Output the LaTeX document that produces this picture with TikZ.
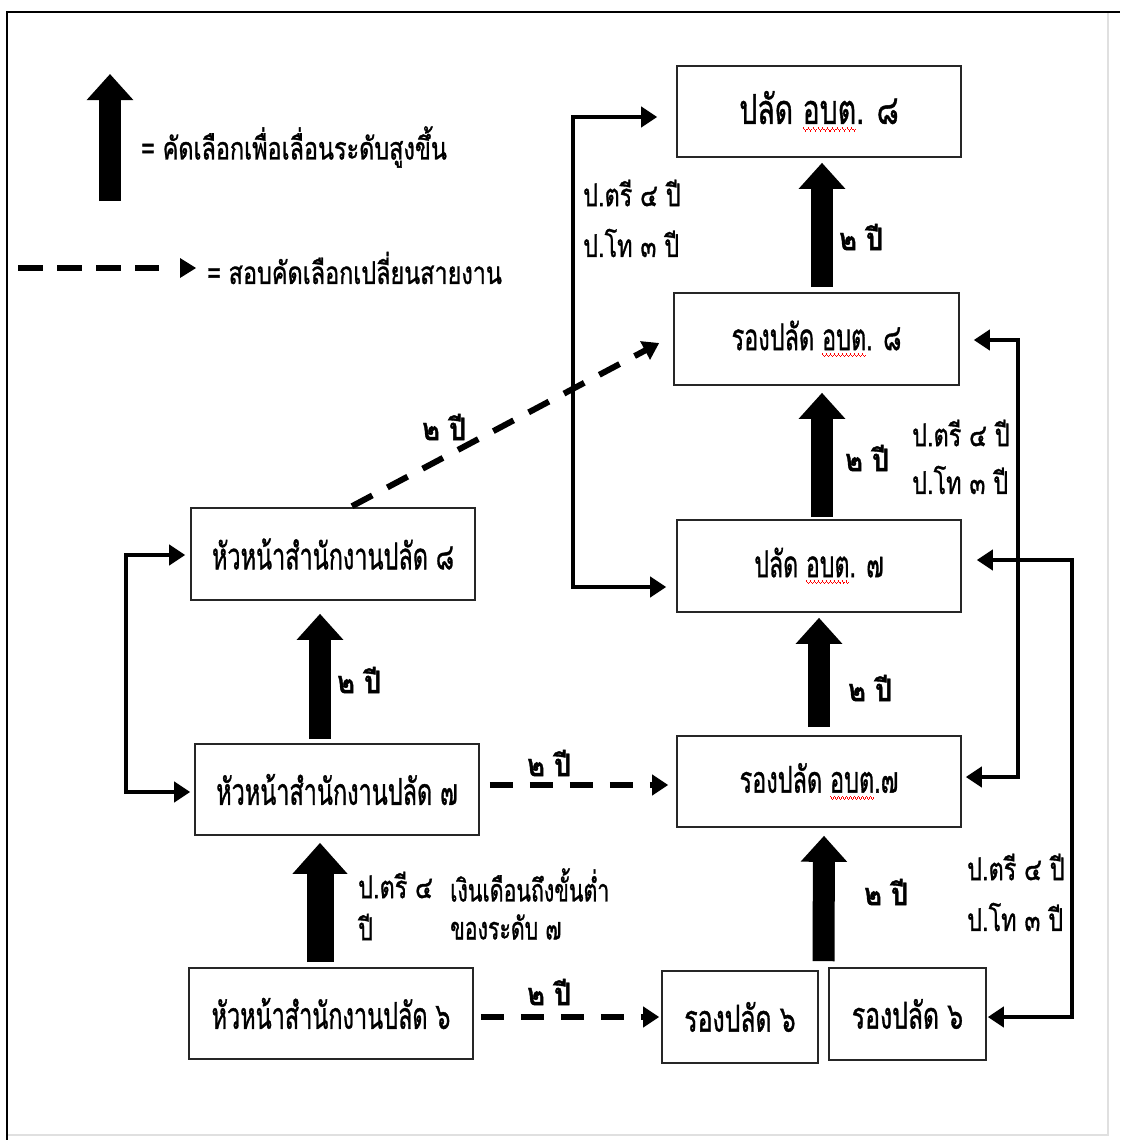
\documentclass[tikz,border=0pt]{standalone}
\usepackage{fontspec}
\usepackage{graphicx}
\setmainfont[Script=Thai,FakeBold=1.2]{Loma}
\usetikzlibrary{arrows.meta,calc}
\newcommand\sq[1]{\leavevmode\sbox0{#1}\rlap{\color{red}\hbox to\wd0{\xleaders\hbox{\rule[-4pt]{1.3pt}{1.2pt}\rule[-5.2pt]{1.3pt}{1.2pt}\rule[-6.4pt]{1.3pt}{1.2pt}\rule[-5.2pt]{1.3pt}{1.2pt}}\hfil}}\box0}
\newcommand\bt[2][0.71]{\scalebox{#1}[1.12]{#2}}
\newcommand\lt[2][0.9]{\scalebox{#1}[1.2]{#2}}
\newcommand\yt[1]{\scalebox{1}[1.15]{#1}}
\begin{document}
\begin{tikzpicture}[x=1pt,y=-1pt,
  bx/.style={draw=black!85, line width=1.6pt, inner sep=0pt, font=\fontsize{33}{38}\selectfont},
  lbl/.style={inner sep=0pt, anchor=west, font=\fontsize{26}{30}\selectfont},
  yr/.style={inner sep=0pt, anchor=west, font=\bfseries\fontsize{27}{31}\selectfont},
  blockarrow/.style={line width=22pt, -{Triangle[width=45pt,length=26pt]}},
  sidearrow/.style={line width=4.5pt, line join=miter, {Triangle[width=20pt,length=16pt]}-{Triangle[width=20pt,length=16pt]}},
  dasharrow/.style={line width=6pt, dash pattern=on 23pt off 17pt, -{Triangle[width=20pt,length=16pt]}}]
\useasboundingbox (0,0) rectangle (1120,1140);
\fill[white] (0,0) rectangle (1120,1140);
% frame
\draw[black!12, line width=1.5pt] (1108,12) -- (1108,1135) -- (7,1135);
\draw[line width=2.5pt] (7,1140) -- (7,12) -- (1120,12);

% boxes
\node[bx, minimum width=284pt, minimum height=91pt] (A) at (819,111.5) {\scalebox{0.86}[1.25]{ปลัด \sq{อบต}. ๘}};
\node[bx, minimum width=285pt, minimum height=92pt] (B) at (816.5,339) {\bt{รองปลัด \sq{อบต}. ๘}};
\node[bx, minimum width=284pt, minimum height=92pt] (C) at (819,566) {\bt[0.70]{ปลัด \sq{อบต}. ๗}};
\node[bx, minimum width=284pt, minimum height=91pt] (D) at (819,781.5) {\bt{รองปลัด \sq{อบต}.๗}};
\node[bx, minimum width=156pt, minimum height=92pt] (E) at (740,1017) {\bt[0.75]{รองปลัด ๖}};
\node[bx, minimum width=157pt, minimum height=92pt] (F) at (907.5,1014) {\bt[0.75]{รองปลัด ๖}};
\node[bx, minimum width=284pt, minimum height=92pt] (G) at (333,554) {\bt{หัวหน้าสำนักงานปลัด ๘}};
\node[bx, minimum width=284pt, minimum height=91pt] (H) at (337,789.5) {\bt{หัวหน้าสำนักงานปลัด ๗}};
\node[bx, minimum width=284pt, minimum height=91pt] (I) at (331,1013.5) {\bt{หัวหน้าสำนักงานปลัด ๖}};

% legend
\coordinate (legA1) at (110,201);
\coordinate (legA2) at (110,74);
\draw[blockarrow] (legA1) -- (legA2);
\node[lbl] (legT1) at (141,147) {\lt{= คัดเลือกเพื่อเลื่อนระดับสูงขึ้น}};
\coordinate (legD1) at (18,268);
\draw[line width=6pt, dash pattern=on 25pt off 14pt] (legD1) -- (159,268);
\fill (180,258) -- (196,268) -- (180,278) -- cycle;
\node[lbl] (legT2) at (207,268) {\lt{= สอบคัดเลือกเปลี่ยนสายงาน}};

% block arrows
\draw[blockarrow] ([xshift=5.5pt,yshift=5pt]B.north) -- ([xshift=3pt,yshift=-5pt]A.south);
\draw[blockarrow] ([xshift=3pt,yshift=2pt]C.north) -- ([xshift=5.5pt,yshift=-7pt]B.south);
\draw[blockarrow] ([yshift=8pt]D.north) -- ([yshift=-5pt]C.south);
\coordinate (EF) at ($(E.north east)!0.5!(F.north west)$);
\draw[blockarrow] ([yshift=7.5pt]EF) -- ([xshift=5pt,yshift=-8pt]D.south);
\draw[line width=27pt, -{Triangle[width=53pt,length=31pt]}] ([xshift=-11pt,yshift=5pt]I.north) -- ([xshift=-17pt,yshift=-7pt]H.south);
\draw[blockarrow] ([xshift=-17pt,yshift=4pt]H.north) -- ([xshift=-13pt,yshift=-13pt]G.south);

% side connectors
\draw[sidearrow] ([xshift=-19pt,yshift=-5.5pt]A.west) -- ++(-84,0) |- ([xshift=-10pt,yshift=-21pt]C.west);
\draw[sidearrow] ([xshift=14pt,yshift=-1pt]B.east) -- ++(44,0) |- ([xshift=4pt,yshift=4.5pt]D.east);
\draw[sidearrow] ([xshift=15pt,yshift=6pt]C.east) -- ++(95,0) |- ([xshift=1pt,yshift=-3pt]F.east);
\draw[sidearrow] ([xshift=-5pt,yshift=-1pt]G.west) -- ++(-59,0) |- ([xshift=-4pt,yshift=-2.5pt]H.west);

% dashed connectors
\draw[dasharrow] ([xshift=10pt,yshift=4.5pt]H.east) -- ([xshift=-8pt,yshift=-3.5pt]D.west);
\draw[dasharrow] ([xshift=7pt,yshift=-3.5pt]I.east) -- ([xshift=-2pt]E.west);
\draw[dasharrow] ([xshift=19pt,yshift=1pt]G.north) -- ([xshift=-14pt,yshift=-4pt]B.west);

% labels
\node[lbl] (l1) at (583,193) {\lt{ป.ตรี ๔ ปี}};
\node[lbl] (l2) at (583,243) {\lt{ป.โท ๓ ปี}};
\node[yr] (y1) at (839,237) {\yt{๒ ปี}};
\node[yr] (y2) at (845,458) {\yt{๒ ปี}};
\node[yr] (y3) at (848,688) {\yt{๒ ปี}};
\node[yr] (y4) at (864,892) {\yt{๒ ปี}};
\node[yr] (y5) at (337,680) {\yt{๒ ปี}};
\node[yr] (y6) at (422,427) {\yt{๒ ปี}};
\node[yr] (y7) at (527,763) {\yt{๒ ปี}};
\node[yr] (y8) at (527,992) {\yt{๒ ปี}};
\node[lbl] (l3) at (912,433) {\lt{ป.ตรี ๔ ปี}};
\node[lbl] (l4) at (912,480) {\lt{ป.โท ๓ ปี}};
\node[lbl] (l5) at (967,867) {\lt{ป.ตรี ๔ ปี}};
\node[lbl] (l6) at (967,917) {\lt{ป.โท ๓ ปี}};
\node[lbl] (l7) at (358,885) {\lt{ป.ตรี ๔}};
\node[lbl] (l8) at (358,927) {\lt{ปี}};
\node[lbl] (l9) at (450,885) {\lt[0.82]{เงินเดือนถึงขั้นต่ำ}};
\node[lbl] (l10) at (450,927) {\lt[0.82]{ของระดับ ๗}};
\end{tikzpicture}
\end{document}
